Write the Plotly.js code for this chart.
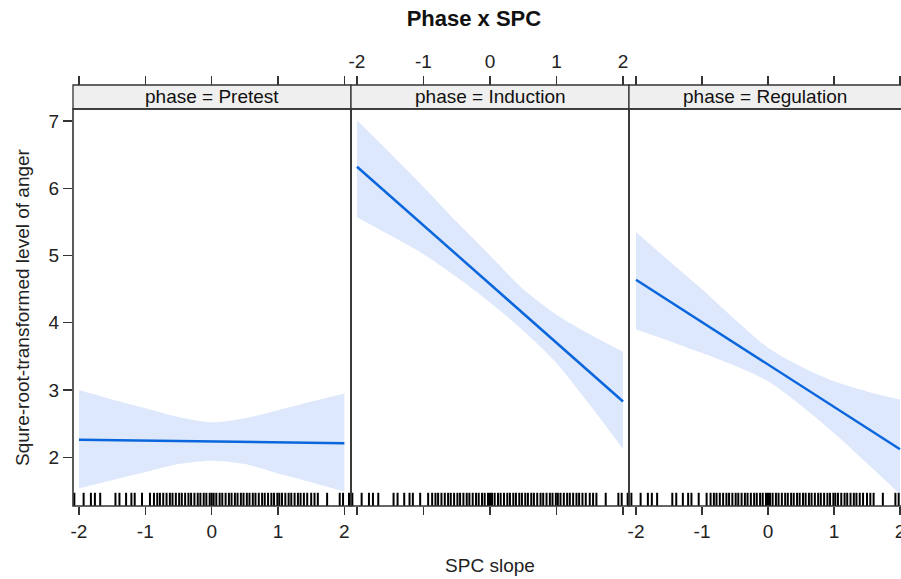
<!DOCTYPE html>
<html>
<head>
<meta charset="utf-8">
<script src="https://cdn.plot.ly/plotly-3.0.1.min.js"></script>
<style>html,body{margin:0;padding:0;background:#fff;}#chart{width:901px;height:579px;}</style>
</head>
<body>
<div id="chart"></div>
<script>
// ---- data ----
var phases = ["Pretest", "Induction", "Regulation"];
var xTicks = [-2, -1, 0, 1, 2];
var yTicks = [2, 3, 4, 5, 6, 7];

var lineX = [-2, 2];
var pretestLine = [2.26, 2.21];
var inductionLine = [6.32, 2.83];
var regulationLine = [4.64, 2.12];

var bandX = [-2, -1.5, -1, -0.5, 0, 0.5, 1, 1.5, 2];
var pretestUpper = [3.00, 2.86, 2.73, 2.60, 2.52, 2.58, 2.70, 2.83, 2.95];
var pretestLower = [1.54, 1.66, 1.78, 1.90, 1.95, 1.90, 1.76, 1.63, 1.49];
var inductionUpper = [7.01, 6.52, 6.02, 5.50, 5.00, 4.50, 4.12, 3.83, 3.57];
var inductionLower = [5.57, 5.30, 5.02, 4.68, 4.30, 3.88, 3.40, 2.78, 2.12];
var regulationUpper = [5.35, 4.92, 4.50, 4.05, 3.63, 3.35, 3.13, 2.98, 2.86];
var regulationLower = [3.90, 3.73, 3.55, 3.36, 3.13, 2.77, 2.36, 1.91, 1.45];

var rugX = [-2.07, -1.93, -1.82, -1.76, -1.68, -1.45, -1.39, -1.29, -1.21, -1.16, -1.05,
  -0.93, -0.87, -0.82, -0.78, -0.73, -0.68, -0.63, -0.59, -0.54, -0.49, -0.45, -0.40,
  -0.35, -0.31, -0.26, -0.21, -0.17, -0.12, -0.08, -0.03, 0.00, 0.03, 0.07, 0.12, 0.16,
  0.21, 0.26, 0.30, 0.35, 0.39, 0.44, 0.48, 0.53, 0.57, 0.62, 0.66, 0.71, 0.76, 0.80,
  0.85, 0.90, 0.94, 0.99, 1.02, 1.06, 1.11, 1.16, 1.20, 1.25, 1.30, 1.34, 1.39, 1.44,
  1.50, 1.55, 1.60, 1.74, 1.93, 1.98, 2.07];

// ---- styling ----
var FONT = "Liberation Sans, Arial, Helvetica, sans-serif";
var lineColor = "#0a66dc";
var bandColor = "#dee8fc";
var frame = "#333333";
var FS = 19;

var domains = [[0, 0.33575], [0.33575, 0.6715], [0.6715, 1.0]];
var ranges = [[-2.09, 2.1], [-2.09, 2.09], [-2.106, 2.015]];
var yDomTop = 0.943;

var uppers = [pretestUpper, inductionUpper, regulationUpper];
var lowers = [pretestLower, inductionLower, regulationLower];
var lines = [pretestLine, inductionLine, regulationLine];

var traces = [];
for (var i = 0; i < 3; i++) {
  var xa = i === 0 ? "x" : "x" + (i + 1);
  traces.push({type: "scatter", mode: "lines", x: bandX, y: lowers[i],
    line: {width: 0, color: bandColor, shape: "spline", smoothing: 0.8}, xaxis: xa, yaxis: "y",
    hoverinfo: "skip", showlegend: false});
  traces.push({type: "scatter", mode: "lines", x: bandX, y: uppers[i], fill: "tonexty",
    fillcolor: bandColor, line: {width: 0, color: bandColor, shape: "spline", smoothing: 0.8},
    xaxis: xa, yaxis: "y", hoverinfo: "skip", showlegend: false});
  traces.push({type: "scatter", mode: "lines", x: lineX, y: lines[i],
    line: {color: lineColor, width: 2.5}, xaxis: xa, yaxis: "y", showlegend: false});
  traces.push({type: "scatter", mode: "markers", x: rugX, y: rugX.map(function(){return 1.358;}),
    marker: {symbol: "line-ns-open", size: 11, color: "#000", line: {width: 2, color: "#000"}},
    xaxis: xa, yaxis: "y", showlegend: false, hoverinfo: "skip", cliponaxis: true});
  traces.push({type: "scatter", mode: "markers", x: [0], y: [4], marker: {opacity: 0},
    xaxis: "x" + (i + 4), yaxis: "y", showlegend: false, hoverinfo: "skip"});
}

var shapes = [];
var annotations = [];
for (var j = 0; j < 3; j++) {
  var x1 = j === 2 ? 1.01 : domains[j][1];
  shapes.push({type: "rect", xref: "paper", yref: "paper", x0: domains[j][0], x1: x1,
    y0: yDomTop, y1: 1, fillcolor: "#efefef", line: {color: frame, width: 1.3}, layer: "below"});
  shapes.push({type: "rect", xref: "paper", yref: "paper", x0: domains[j][0], x1: x1,
    y0: 0, y1: yDomTop, line: {color: frame, width: 1.6}, layer: "above"});
  annotations.push({xref: "paper", yref: "paper", x: (domains[j][0] + domains[j][1]) / 2,
    y: (yDomTop + 1) / 2, text: "phase = " + phases[j], showarrow: false,
    xanchor: "center", yanchor: "middle", font: {family: FONT, size: FS, color: "#111"}});
}

function xAxis(i, side, labels) {
  var a = {domain: domains[i % 3], range: ranges[i % 3], tickmode: "array", tickvals: xTicks,
    ticktext: xTicks.map(String), ticks: "outside", ticklen: 8, tickwidth: 1.2, tickcolor: frame,
    showgrid: false, zeroline: false, showline: false, showticklabels: labels,
    ticklabeloverflow: "allow",
    tickfont: {family: FONT, size: FS, color: "#222"}, fixedrange: true};
  if (side === "top") {
    a.side = "top"; a.anchor = "free"; a.position = 1; a.ticklen = 9;
  } else {
    a.anchor = "y";
  }
  return a;
}

var layout = {
  width: 901, height: 579,
  margin: {l: 73, r: 0, t: 85, b: 73},
  paper_bgcolor: "#fff", plot_bgcolor: "rgba(0,0,0,0)",
  showlegend: false,
  title: {text: "<b>Phase x SPC</b>", x: 0.526, xref: "container", xanchor: "center",
    y: 0.969, yref: "container", yanchor: "middle",
    font: {family: FONT, size: 22, color: "#111"}},
  xaxis: xAxis(0, "bottom", true),
  xaxis2: Object.assign(xAxis(1, "bottom", false), {
    title: {text: "SPC slope", font: {family: FONT, size: FS, color: "#222"}, standoff: 44}}),
  xaxis3: xAxis(2, "bottom", true),
  xaxis4: xAxis(0, "top", false),
  xaxis5: xAxis(1, "top", true),
  xaxis6: xAxis(2, "top", false),
  yaxis: {domain: [0, yDomTop], range: [1.276, 7.178], tickmode: "array", tickvals: yTicks,
    ticktext: yTicks.map(String), ticks: "outside", ticklen: 9, tickwidth: 1.2, tickcolor: frame,
    showgrid: false, zeroline: false, showline: false, anchor: "x",
    tickfont: {family: FONT, size: FS, color: "#222"}, fixedrange: true,
    title: {text: "Squre-root-transformed level of anger", standoff: 13,
      font: {family: FONT, size: FS, color: "#222"}}},
  shapes: shapes,
  annotations: annotations
};

Plotly.newPlot("chart", traces, layout, {displayModeBar: false, staticPlot: true});
</script>
</body>
</html>
